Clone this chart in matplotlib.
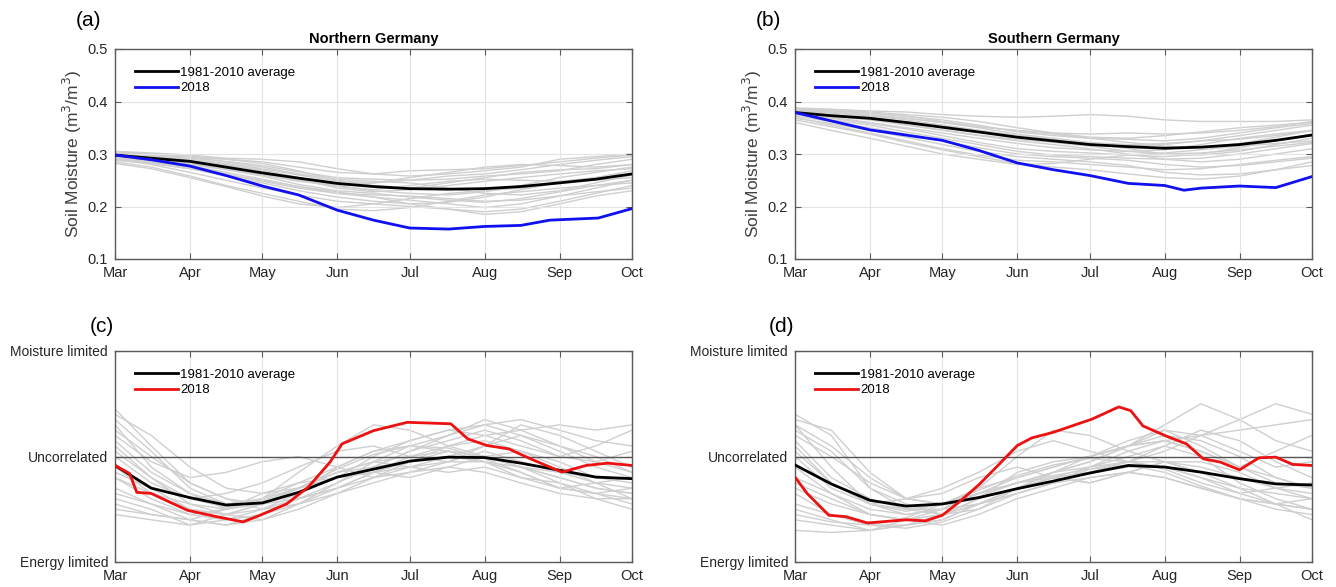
import numpy as np
import matplotlib
import matplotlib.pyplot as plt

matplotlib.use("Agg")

plt.rcParams["font.family"] = ["Liberation Sans", "DejaVu Sans"]

# Month ticks (days after 1 March)
month_days = [0, 31, 61, 92, 122, 153, 184, 214]
month_labels = ["Mar", "Apr", "May", "Jun", "Jul", "Aug", "Sep", "Oct"]

# half-month sample days used for the average and the single years
half_days = [0, 15, 31, 46, 61, 76, 92, 107, 122, 138, 153, 168, 184, 199, 214]

# ---- (a) Northern Germany soil moisture ----
avg_a = [0.298, 0.292, 0.286, 0.275, 0.264, 0.254, 0.244, 0.238, 0.234, 0.233,
         0.234, 0.238, 0.245, 0.252, 0.262]
y2018_a_days = [0, 15, 31, 46, 61, 76, 92, 107, 122, 138, 153, 168, 180, 190, 200, 214]
y2018_a = [0.298, 0.289, 0.277, 0.259, 0.239, 0.222, 0.193, 0.174, 0.159, 0.157,
           0.162, 0.164, 0.174, 0.176, 0.178, 0.196]
years_a = [
    [0.305, 0.300, 0.295, 0.290, 0.285, 0.275, 0.265, 0.262, 0.268, 0.270, 0.272, 0.278, 0.285, 0.292, 0.298],
    [0.300, 0.296, 0.290, 0.282, 0.272, 0.260, 0.248, 0.245, 0.250, 0.258, 0.262, 0.270, 0.280, 0.288, 0.295],
    [0.295, 0.288, 0.278, 0.265, 0.252, 0.238, 0.225, 0.218, 0.212, 0.205, 0.198, 0.205, 0.220, 0.235, 0.250],
    [0.290, 0.280, 0.265, 0.250, 0.235, 0.222, 0.210, 0.205, 0.200, 0.195, 0.190, 0.195, 0.210, 0.225, 0.240],
    [0.285, 0.275, 0.258, 0.240, 0.225, 0.210, 0.195, 0.192, 0.198, 0.210, 0.222, 0.228, 0.235, 0.240, 0.245],
    [0.302, 0.298, 0.295, 0.290, 0.282, 0.268, 0.250, 0.240, 0.235, 0.245, 0.255, 0.265, 0.270, 0.272, 0.280],
    [0.298, 0.292, 0.285, 0.278, 0.270, 0.255, 0.240, 0.230, 0.225, 0.222, 0.228, 0.240, 0.255, 0.265, 0.275],
    [0.292, 0.285, 0.275, 0.262, 0.248, 0.235, 0.225, 0.222, 0.220, 0.215, 0.210, 0.212, 0.220, 0.228, 0.235],
    [0.305, 0.302, 0.298, 0.292, 0.290, 0.285, 0.272, 0.262, 0.258, 0.262, 0.268, 0.275, 0.290, 0.295, 0.300],
    [0.288, 0.282, 0.272, 0.258, 0.245, 0.230, 0.218, 0.210, 0.205, 0.208, 0.218, 0.232, 0.245, 0.255, 0.262],
    [0.300, 0.295, 0.288, 0.280, 0.268, 0.252, 0.235, 0.228, 0.232, 0.240, 0.248, 0.255, 0.262, 0.268, 0.272],
    [0.296, 0.290, 0.282, 0.272, 0.260, 0.248, 0.240, 0.245, 0.255, 0.265, 0.275, 0.280, 0.278, 0.275, 0.280],
    [0.282, 0.272, 0.255, 0.238, 0.220, 0.205, 0.198, 0.205, 0.215, 0.225, 0.230, 0.235, 0.245, 0.250, 0.255],
    [0.303, 0.300, 0.295, 0.285, 0.275, 0.262, 0.252, 0.248, 0.245, 0.235, 0.225, 0.222, 0.230, 0.245, 0.260],
    [0.298, 0.290, 0.280, 0.270, 0.258, 0.242, 0.230, 0.225, 0.218, 0.212, 0.208, 0.215, 0.228, 0.240, 0.250],
    [0.294, 0.288, 0.280, 0.272, 0.262, 0.250, 0.238, 0.232, 0.240, 0.248, 0.252, 0.250, 0.248, 0.255, 0.268],
    [0.300, 0.296, 0.292, 0.286, 0.278, 0.266, 0.255, 0.252, 0.250, 0.252, 0.258, 0.262, 0.268, 0.280, 0.290],
    [0.290, 0.283, 0.272, 0.260, 0.250, 0.238, 0.228, 0.218, 0.205, 0.195, 0.185, 0.190, 0.205, 0.220, 0.230],
]

# ---- (b) Southern Germany soil moisture ----
avg_b = [0.379, 0.373, 0.368, 0.360, 0.351, 0.342, 0.332, 0.325, 0.318, 0.314,
         0.311, 0.313, 0.318, 0.326, 0.336]
y2018_b_days = [0, 15, 31, 46, 61, 76, 92, 107, 122, 138, 153, 161, 168, 184, 199, 214]
y2018_b = [0.379, 0.363, 0.346, 0.336, 0.326, 0.307, 0.283, 0.270, 0.259, 0.244,
           0.240, 0.231, 0.235, 0.239, 0.236, 0.257]
years_b = [
    [0.385, 0.385, 0.382, 0.380, 0.375, 0.372, 0.370, 0.372, 0.375, 0.372, 0.365, 0.362, 0.362, 0.362, 0.365],
    [0.382, 0.378, 0.372, 0.365, 0.355, 0.345, 0.335, 0.325, 0.318, 0.315, 0.318, 0.325, 0.335, 0.345, 0.355],
    [0.370, 0.355, 0.340, 0.325, 0.310, 0.298, 0.288, 0.285, 0.280, 0.275, 0.270, 0.272, 0.280, 0.288, 0.295],
    [0.360, 0.345, 0.330, 0.315, 0.300, 0.290, 0.280, 0.282, 0.290, 0.298, 0.302, 0.308, 0.315, 0.320, 0.325],
    [0.378, 0.372, 0.365, 0.355, 0.345, 0.335, 0.325, 0.318, 0.310, 0.300, 0.290, 0.285, 0.290, 0.300, 0.310],
    [0.388, 0.385, 0.380, 0.375, 0.370, 0.362, 0.350, 0.340, 0.332, 0.330, 0.335, 0.342, 0.350, 0.355, 0.360],
    [0.375, 0.365, 0.355, 0.342, 0.330, 0.318, 0.305, 0.298, 0.295, 0.292, 0.290, 0.292, 0.300, 0.310, 0.320],
    [0.380, 0.375, 0.370, 0.362, 0.355, 0.345, 0.335, 0.328, 0.320, 0.310, 0.300, 0.298, 0.305, 0.318, 0.330],
    [0.385, 0.382, 0.378, 0.372, 0.365, 0.355, 0.342, 0.335, 0.330, 0.328, 0.325, 0.330, 0.340, 0.350, 0.358],
    [0.365, 0.352, 0.338, 0.322, 0.308, 0.295, 0.282, 0.275, 0.270, 0.262, 0.255, 0.252, 0.258, 0.270, 0.285],
    [0.378, 0.370, 0.360, 0.350, 0.340, 0.330, 0.320, 0.312, 0.308, 0.305, 0.308, 0.318, 0.330, 0.338, 0.345],
    [0.383, 0.380, 0.375, 0.368, 0.360, 0.350, 0.338, 0.330, 0.322, 0.318, 0.320, 0.325, 0.328, 0.335, 0.345],
    [0.372, 0.362, 0.350, 0.338, 0.325, 0.312, 0.300, 0.295, 0.292, 0.288, 0.280, 0.275, 0.278, 0.285, 0.292],
    [0.386, 0.383, 0.378, 0.372, 0.362, 0.352, 0.345, 0.340, 0.338, 0.340, 0.338, 0.340, 0.345, 0.352, 0.362],
    [0.376, 0.368, 0.358, 0.348, 0.335, 0.322, 0.310, 0.305, 0.302, 0.298, 0.295, 0.300, 0.312, 0.325, 0.338],
    [0.380, 0.374, 0.366, 0.356, 0.346, 0.336, 0.328, 0.322, 0.315, 0.305, 0.300, 0.302, 0.308, 0.315, 0.322],
    [0.368, 0.358, 0.345, 0.332, 0.318, 0.305, 0.295, 0.290, 0.285, 0.278, 0.265, 0.260, 0.262, 0.270, 0.278],
    [0.384, 0.380, 0.374, 0.368, 0.360, 0.352, 0.344, 0.338, 0.330, 0.322, 0.315, 0.312, 0.320, 0.332, 0.345],
]

# ---- (c) Northern Germany coupling (-1 energy limited ... 1 moisture limited) ----
avg_c = [-0.085, -0.30, -0.39, -0.46, -0.44, -0.34, -0.195, -0.12, -0.044, -0.006,
         -0.01, -0.063, -0.13, -0.195, -0.21]
y2018_c_days = [0, 6, 9, 15, 21, 30, 42, 53, 60, 71, 80, 89, 94, 107, 121, 139, 146,
                154, 163, 172, 185, 195, 204, 214]
y2018_c = [-0.085, -0.16, -0.34, -0.35, -0.415, -0.51, -0.57, -0.62, -0.557, -0.45,
           -0.29, -0.053, 0.12, 0.245, 0.324, 0.31, 0.167, 0.104, 0.072, -0.022,
           -0.148, -0.085, -0.063, -0.085]
years_c = [
    [0.45, 0.10, -0.25, -0.40, -0.45, -0.35, -0.10, 0.05, 0.10, 0.05, -0.05, -0.10, -0.15, -0.25, -0.30],
    [0.30, -0.10, -0.35, -0.50, -0.40, -0.15, 0.10, 0.30, 0.25, 0.10, 0.00, -0.10, -0.20, -0.30, -0.35],
    [-0.20, -0.40, -0.55, -0.60, -0.55, -0.45, -0.35, -0.20, -0.10, 0.00, 0.10, 0.20, 0.10, -0.05, -0.15],
    [-0.50, -0.55, -0.60, -0.65, -0.55, -0.40, -0.30, -0.15, 0.00, 0.10, 0.15, 0.05, -0.10, -0.25, -0.40],
    [0.10, -0.20, -0.45, -0.50, -0.35, -0.25, -0.20, -0.10, 0.05, 0.20, 0.30, 0.35, 0.25, 0.15, 0.10],
    [-0.30, -0.45, -0.55, -0.50, -0.45, -0.30, -0.15, -0.05, -0.10, -0.15, -0.10, -0.20, -0.25, -0.35, -0.45],
    [0.20, -0.05, -0.20, -0.15, -0.05, 0.00, -0.10, -0.20, -0.15, -0.05, 0.05, -0.05, -0.15, -0.20, -0.20],
    [-0.10, -0.35, -0.50, -0.55, -0.50, -0.40, -0.25, -0.10, 0.05, 0.15, 0.25, 0.15, 0.00, 0.10, 0.25],
    [-0.40, -0.50, -0.65, -0.60, -0.50, -0.35, -0.20, -0.15, -0.10, -0.05, -0.05, -0.15, -0.30, -0.35, -0.30],
    [0.35, 0.05, -0.30, -0.45, -0.40, -0.30, -0.20, 0.00, 0.15, 0.25, 0.20, 0.10, 0.00, -0.05, 0.05],
    [-0.20, -0.35, -0.45, -0.55, -0.60, -0.50, -0.35, -0.25, -0.15, -0.10, -0.15, -0.25, -0.35, -0.40, -0.50],
    [0.00, -0.25, -0.40, -0.35, -0.25, -0.10, 0.05, 0.10, 0.00, -0.05, 0.10, 0.30, 0.20, 0.05, -0.10],
    [-0.55, -0.60, -0.65, -0.55, -0.45, -0.30, -0.15, -0.05, 0.00, 0.05, 0.00, -0.10, -0.20, -0.30, -0.35],
    [0.15, -0.15, -0.35, -0.45, -0.45, -0.40, -0.30, -0.15, -0.05, 0.10, 0.20, 0.25, 0.30, 0.25, 0.30],
    [-0.15, -0.30, -0.50, -0.55, -0.45, -0.30, -0.20, -0.15, -0.20, -0.10, 0.00, 0.05, -0.05, -0.20, -0.25],
    [0.25, 0.00, -0.25, -0.40, -0.50, -0.45, -0.25, -0.05, 0.10, 0.20, 0.35, 0.25, 0.10, 0.00, -0.15],
    [-0.35, -0.45, -0.60, -0.65, -0.60, -0.45, -0.30, -0.20, -0.05, 0.05, 0.00, -0.10, -0.25, -0.40, -0.40],
    [0.05, -0.20, -0.40, -0.48, -0.42, -0.30, -0.12, 0.02, 0.10, 0.08, -0.02, -0.15, -0.30, -0.25, -0.20],
    [-0.45, -0.55, -0.60, -0.50, -0.40, -0.25, -0.10, 0.05, 0.15, 0.25, 0.30, 0.20, 0.05, -0.10, -0.20],
    [0.40, 0.20, -0.10, -0.30, -0.35, -0.30, -0.15, -0.10, -0.05, 0.00, -0.05, -0.20, -0.30, -0.35, -0.40],
]

# ---- (d) Southern Germany coupling ----
avg_d = [-0.08, -0.26, -0.415, -0.47, -0.45, -0.39, -0.305, -0.233, -0.157, -0.085,
         -0.10, -0.148, -0.21, -0.26, -0.27]
y2018_d_days = [0, 5, 14, 21, 30, 46, 54, 61, 68, 76, 84, 92, 98, 107, 123, 134, 139,
                144, 154, 162, 169, 176, 184, 192, 199, 206, 214]
y2018_d = [-0.195, -0.35, -0.557, -0.57, -0.63, -0.60, -0.61, -0.557, -0.43, -0.27,
           -0.085, 0.104, 0.176, 0.23, 0.355, 0.47, 0.434, 0.29, 0.19, 0.12, -0.022,
           -0.053, -0.126, -0.013, -0.006, -0.075, -0.085]
years_d = [
    [0.40, 0.20, -0.30, -0.50, -0.55, -0.40, -0.15, -0.05, 0.00, 0.10, 0.20, 0.15, 0.00, -0.20, -0.30],
    [0.30, -0.10, -0.45, -0.55, -0.50, -0.30, 0.00, 0.25, 0.20, 0.05, -0.05, -0.15, -0.20, -0.30, -0.40],
    [-0.35, -0.55, -0.65, -0.65, -0.60, -0.45, -0.30, -0.20, -0.10, 0.00, 0.10, 0.00, -0.25, -0.40, -0.50],
    [-0.60, -0.65, -0.70, -0.65, -0.55, -0.40, -0.30, -0.20, -0.15, -0.05, 0.05, 0.20, 0.35, 0.50, 0.40],
    [0.10, -0.25, -0.45, -0.50, -0.45, -0.35, -0.25, -0.15, -0.05, 0.10, 0.30, 0.50, 0.35, 0.15, 0.05],
    [-0.25, -0.40, -0.55, -0.60, -0.55, -0.45, -0.35, -0.25, -0.20, -0.15, -0.20, -0.30, -0.40, -0.45, -0.50],
    [0.20, 0.00, -0.25, -0.40, -0.35, -0.20, -0.10, -0.20, -0.25, -0.15, -0.05, -0.10, -0.20, -0.25, -0.30],
    [-0.10, -0.35, -0.55, -0.60, -0.55, -0.45, -0.30, -0.15, -0.05, 0.10, 0.15, 0.05, -0.10, 0.05, 0.20],
    [-0.50, -0.60, -0.70, -0.65, -0.60, -0.45, -0.30, -0.20, -0.15, -0.10, -0.10, -0.20, -0.35, -0.45, -0.40],
    [0.35, 0.25, -0.15, -0.40, -0.45, -0.35, -0.20, -0.10, 0.00, 0.15, 0.25, 0.20, 0.05, -0.10, -0.05],
    [-0.30, -0.45, -0.55, -0.60, -0.65, -0.55, -0.40, -0.30, -0.20, -0.15, -0.20, -0.30, -0.40, -0.50, -0.55],
    [0.00, -0.30, -0.45, -0.40, -0.30, -0.15, 0.05, 0.15, 0.05, -0.05, 0.10, 0.25, 0.15, -0.05, -0.20],
    [-0.70, -0.72, -0.70, -0.60, -0.50, -0.35, -0.25, -0.15, -0.10, -0.05, -0.10, -0.20, -0.30, -0.35, -0.40],
    [0.15, -0.20, -0.40, -0.50, -0.50, -0.45, -0.35, -0.25, -0.10, 0.05, 0.15, 0.20, 0.25, 0.30, 0.35],
    [-0.20, -0.35, -0.50, -0.55, -0.50, -0.35, -0.25, -0.20, -0.25, -0.15, -0.05, -0.05, -0.15, -0.30, -0.35],
    [0.25, 0.05, -0.30, -0.45, -0.55, -0.50, -0.30, -0.15, 0.00, 0.10, 0.25, 0.10, -0.10, -0.25, -0.30],
    [-0.45, -0.55, -0.65, -0.68, -0.62, -0.50, -0.35, -0.25, -0.12, -0.05, -0.05, -0.15, -0.30, -0.45, -0.50],
    [0.05, -0.25, -0.45, -0.52, -0.45, -0.32, -0.18, -0.08, -0.02, -0.05, -0.12, -0.25, -0.35, -0.30, -0.25],
    [-0.55, -0.62, -0.65, -0.58, -0.45, -0.30, -0.20, -0.10, 0.00, 0.10, 0.15, 0.05, -0.10, -0.20, -0.30],
    [0.30, 0.10, -0.20, -0.40, -0.45, -0.38, -0.25, -0.18, -0.12, -0.08, -0.15, -0.28, -0.40, -0.45, -0.60],
]

coupling_ticks = [-1, 0, 1]
coupling_labels = ["Energy limited", "Uncorrelated", "Moisture limited"]

W, H = 1336, 587
fig = plt.figure(figsize=(W / 100, H / 100), dpi=100)

TXT = "#262626"
SPINE = "#5a5a5a"
GRAYLINE = "#cfcfcf"


def make_axes(x0, y_top, x1, y_bot):
    return fig.add_axes([x0 / W, 1 - y_bot / H, (x1 - x0) / W, (y_bot - y_top) / H])


def style(ax):
    ax.set_xlim(0, 214)
    ax.set_xticks(month_days)
    ax.set_xticklabels(month_labels)
    ax.tick_params(direction="in", length=4, width=0.8, colors=SPINE,
                   labelcolor=TXT, labelsize=10.5, top=True, right=True, pad=5)
    for s in ax.spines.values():
        s.set_color(SPINE)
        s.set_linewidth(1.0)


def draw(ax, years, avg, d2018, v2018, col2018):
    for yr in years:
        ax.plot(half_days, yr, color=GRAYLINE, lw=1.0, zorder=1)
    ax.plot(half_days, avg, color="black", lw=2.0, zorder=3, label="1981-2010 average")
    ax.plot(d2018, v2018, color=col2018, lw=2.0, zorder=4, label="2018")
    ax.legend(loc="upper left", frameon=False, fontsize=9.5, handlelength=3.3,
              handletextpad=0.15, borderaxespad=0.3, labelspacing=0.25,
              bbox_to_anchor=(0.02, 0.96))


# top row: soil moisture
for (x0, x1, years, avg, d18, v18, title, tag) in [
    (115, 632, years_a, avg_a, y2018_a_days, y2018_a, "Northern Germany", "(a)"),
    (795, 1312, years_b, avg_b, y2018_b_days, y2018_b, "Southern Germany", "(b)"),
]:
    ax = make_axes(x0, 49, x1, 259)
    draw(ax, years, avg, d18, v18, "#1010f0")
    style(ax)
    ax.set_ylim(0.1, 0.5)
    ax.set_yticks([0.1, 0.2, 0.3, 0.4, 0.5])
    ax.grid(True, color="#e3e3e3", lw=0.8, zorder=0)
    ax.set_title(title, fontsize=10.5, fontweight="bold", color="black", pad=4)
    ax.set_ylabel("Soil Moisture (m$^3$/m$^3$)", fontsize=12.5, color="#404040", labelpad=3)
    fig.text((x0 - 27) / W, 1 - 20 / H, tag, fontsize=15, ha="center", va="center")

# bottom row: coupling
for (x0, x1, years, avg, d18, v18, tag) in [
    (115, 632, years_c, avg_c, y2018_c_days, y2018_c, "(c)"),
    (795, 1312, years_d, avg_d, y2018_d_days, y2018_d, "(d)"),
]:
    ax = make_axes(x0, 351, x1, 562)
    draw(ax, years, avg, d18, v18, "#ee1111")
    style(ax)
    ax.set_ylim(-1, 1)
    ax.set_yticks(coupling_ticks)
    ax.set_yticklabels(coupling_labels, fontsize=10)
    ax.grid(True, axis="x", color="#e3e3e3", lw=0.8, zorder=0)
    ax.axhline(0, color="#555555", lw=1.0, zorder=2)
    fig.text((x0 - 13) / W, 1 - 327 / H, tag, fontsize=15, ha="center", va="center")

fig.savefig("out.png", dpi=100)
plt.close(fig)
